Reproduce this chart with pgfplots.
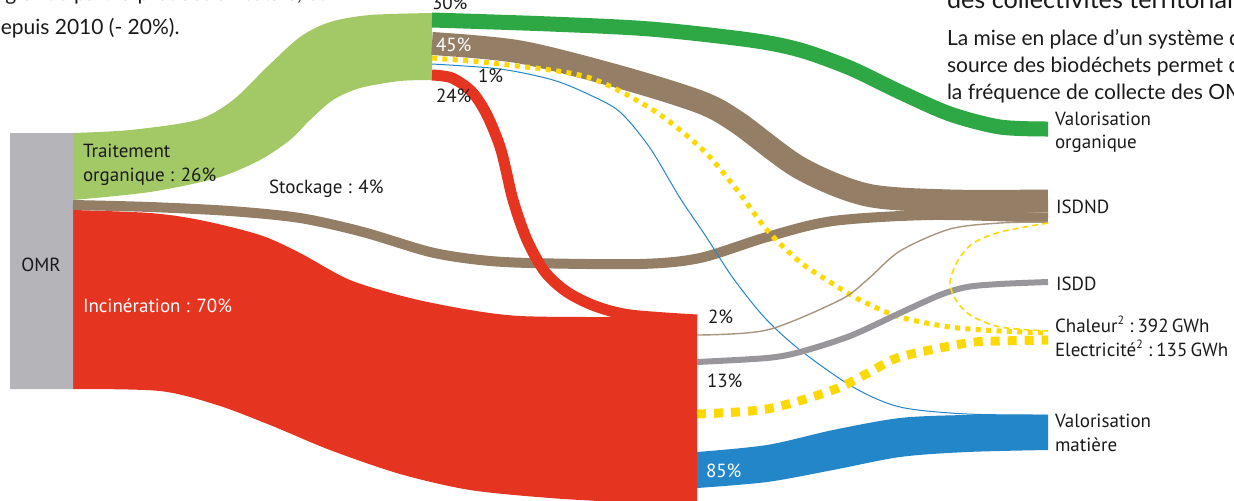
\documentclass[border=0pt]{standalone}
\usepackage{pgfplots}
\pgfplotsset{compat=1.18}
\usepgfplotslibrary{fillbetween}
\usepackage{fontspec}
\setmainfont{PT Sans}
\newfontfamily\bodyfont{Lato}
\definecolor{omrgray}{HTML}{B5B4B9}
\definecolor{lgreen}{HTML}{A3C966}
\definecolor{dgreen}{HTML}{2EA845}
\definecolor{sbrown}{HTML}{947F66}
\definecolor{sred}{HTML}{E5341F}
\definecolor{sblue}{HTML}{2386C8}
\definecolor{syel}{HTML}{FCD804}
\definecolor{sgray}{HTML}{98969A}
\definecolor{tbrown}{HTML}{A8957F}
\definecolor{txt}{HTML}{1A1A1A}
\tikzset{
  lb/.style={inner sep=0pt, outer sep=0pt, anchor=base west, font=\fontsize{9.5}{10}\selectfont, text=txt},
  bd/.style={inner sep=0pt, outer sep=0pt, anchor=base west, font=\bodyfont\fontsize{10.5}{11}\selectfont, text=txt},
}
\newcommand{\sq}{\textsuperscript{\fontsize{6}{6}\selectfont 2}}
\begin{document}
\begin{tikzpicture}
\begin{axis}[
  scale only axis, width=617pt, height=250pt,
  xmin=0, xmax=1234, ymin=0, ymax=500, y dir=reverse,
  hide axis, clip=false,
]
% OMR node
\addplot[fill=omrgray, draw=none] coordinates {(10,133) (73,133) (73,389) (10,389) (10,133)};
% Traitement organique 26%
\addplot[draw=none, name path=gt, smooth] coordinates {(73,133) (130,130) (197,120) (233,100) (267,67) (300,37) (330,22) (370,15) (432,13)};
\addplot[draw=none, name path=gb, smooth] coordinates {(73,200) (150,192) (217,178) (260,160) (290,140) (310,120) (333,100) (360,88) (400,81) (432,80)};
\addplot[lgreen] fill between[of=gt and gb];
% Incineration 70%
\addplot[draw=none, name path=rt, smooth] coordinates {(73,210) (150,213) (200,220) (260,235) (300,253) (350,280) (410,298) (470,310) (520,316) (600,317) (697,316)};
\addplot[draw=none, name path=rb, smooth] coordinates {(73,389) (160,391) (217,405) (270,425) (330,450) (400,474) (470,490) (550,498) (620,502) (697,505)};
\addplot[sred] fill between[of=rt and rb];
% Valorisation matiere 85%
\addplot[draw=none, name path=bt, smooth] coordinates {(697,452) (767,445) (833,430) (900,418) (967,415) (1048,415)};
\addplot[draw=none, name path=bb, smooth] coordinates {(697,488) (767,482) (833,470) (900,457) (967,452) (1048,450)};
\addplot[sblue] fill between[of=bt and bb];
% Stockage 4%
\addplot[sbrown, line width=5pt, smooth] coordinates {(73,205) (150,207) (230,211) (300,218) (363,232) (430,252) (480,260) (530,263) (640,264) (700,258) (767,237) (833,221) (933,215) (1048,218)};
% 30% -> valorisation organique
\addplot[dgreen, line width=7.5pt, smooth] coordinates {(432,20) (550,24) (650,29) (750,40) (800,50) (850,68) (900,92) (950,114) (1000,127) (1048,129)};
% 45% -> ISDND
\addplot[sbrown, line width=11.5pt, smooth] coordinates {(432,43.5) (520,52) (620,77) (700,102) (737,122) (800,168) (867,195) (950,201) (1048,201)};
% yellow dotted from organique
\addplot[syel, line width=2.5pt, dash pattern=on 2.5pt off 2.7pt, smooth] coordinates {(432,58) (500,64) (587,77) (653,110) (703,150) (737,190) (767,230) (800,262) (830,282) (860,300) (900,317) (950,327) (1000,331) (1048,333)};
% blue thin 1%
\addplot[sblue, line width=0.5pt, smooth] coordinates {(432,64) (500,69) (553,80) (590,95) (620,112) (650,148) (680,198) (705,235) (733,278) (765,318) (800,350) (853,387) (900,407) (967,414) (1048,415)};
% 24% -> incineration
\addplot[sred, line width=5.5pt, smooth] coordinates {(432,75) (452,78) (472,92) (487,115) (501,150) (513,200) (527,240) (545,272) (567,292) (595,306) (630,315) (697,320)};
% 2% -> ISDND
\addplot[tbrown, line width=0.7pt, smooth] coordinates {(697,335) (767,330) (840,300) (867,280) (900,251) (950,229) (1000,223) (1048,222)};
% 13% -> ISDD
\addplot[sgray, line width=3pt, smooth] coordinates {(697,362) (767,358) (800,352) (850,336) (900,313) (940,295) (967,287) (1000,284) (1048,282)};
% yellow dotted from incineration
\addplot[syel, line width=4.5pt, dash pattern=on 4.5pt off 4pt, smooth] coordinates {(697,414) (767,409) (833,390) (870,372) (900,357) (967,343) (1000,341) (1048,340)};
% yellow dashed loop ISDND -> chaleur
\addplot[syel, line width=0.8pt, dash pattern=on 3pt off 2pt, smooth] coordinates {(1048,223) (1000,232) (972,244) (957,262) (950,283) (956,300) (970,315) (1000,327) (1048,331)};

% labels
\node[lb] at (axis cs:83,157) {Traitement};
\node[lb] at (axis cs:83,181) {organique : 26\%};
\node[lb] at (axis cs:269,193) {Stockage : 4\%};
\node[lb, text=white] at (axis cs:83,312) {Incinération : 70\%};
\node[lb, anchor=base] at (axis cs:41,271) {OMR};
\node[lb] at (axis cs:432,9) {30\%};
\node[lb, text=white] at (axis cs:436,51) {45\%};
\node[lb] at (axis cs:478,82) {1\%};
\node[lb] at (axis cs:436,102) {24\%};
\node[lb] at (axis cs:708,323) {2\%};
\node[lb] at (axis cs:707,387) {13\%};
\node[lb, text=white] at (axis cs:706,477) {85\%};
\node[lb] at (axis cs:1055,125) {Valorisation};
\node[lb] at (axis cs:1055,148) {organique};
\node[lb] at (axis cs:1056,213) {ISDND};
\node[lb] at (axis cs:1056,290) {ISDD};
\node[lb] at (axis cs:1055,332) {Chaleur\sq\hspace{0.22em}:\hspace{0.22em}392\,GWh};
\node[lb] at (axis cs:1055,356) {Electricité\sq\hspace{0.22em}:\hspace{0.22em}135\,GWh};
\node[lb] at (axis cs:1055,427) {Valorisation};
\node[lb] at (axis cs:1055,451) {matière};
% surrounding text
\node[bd] at (axis cs:-11,34) {depuis 2010 (- 20\%).};
\node[bd] at (axis cs:-56,0) {est en grande part la production totale, et};
\node[bd, font=\bodyfont\fontsize{12.6}{14}\selectfont] at (axis cs:947,8) {des collectivités territoriales};
\node[bd] at (axis cs:947,45) {La mise en place d’un système de collecte séparée};
\node[bd] at (axis cs:947,72) {source des biodéchets permet de réduire};
\node[bd] at (axis cs:947,99) {la fréquence de collecte des OMR};
\end{axis}
\pgfresetboundingbox
\path (current axis.south west) rectangle (current axis.north east);
\end{tikzpicture}
\end{document}
